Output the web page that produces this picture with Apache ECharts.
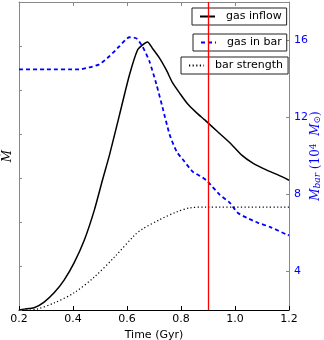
<!DOCTYPE html>
<html><head><meta charset="utf-8">
<script src="https://cdn.jsdelivr.net/npm/echarts@6/dist/echarts.min.js"></script>
<style>html,body{margin:0;padding:0;background:#fff}#c{width:324px;height:340px}</style>
</head><body><div id="c"></div>
<script>
// x-axis tick labels
const xTicks = [0.2, 0.4, 0.6, 0.8, 1.0, 1.2];
const rightTicks = [4, 8, 12, 16];
// gas inflow (left axis, arbitrary units)
const inflowTime  = [0.2,0.219,0.256,0.293,0.33,0.367,0.404,0.442,0.479,0.509,0.535,0.572,0.609,0.639,0.657,0.676,0.694,0.72,0.746,0.769,0.795,0.825,0.858,0.888,0.936,0.981,1.025,1.066,1.118,1.159,1.2];
const inflowValue = [0,0.02,0.05,0.18,0.39,0.68,1.07,1.59,2.27,2.95,3.52,4.43,5.34,5.91,6.02,6.09,5.95,5.73,5.45,5.16,4.93,4.68,4.48,4.32,4.05,3.80,3.52,3.34,3.18,3.07,2.95];
// gas in bar (right axis, 10^4 Msun)
const barGasTime  = [0.2,0.3,0.423,0.46,0.497,0.535,0.572,0.609,0.635,0.657,0.683,0.709,0.732,0.758,0.784,0.813,0.843,0.88,0.899,0.943,0.981,1.01,1.044,1.085,1.129,1.193,1.2];
const barGasValue = [14.5,14.5,14.5,14.6,14.76,15.18,15.7,16.17,16.11,15.7,14.92,13.72,12.5,11.11,10.23,9.71,9.19,8.88,8.67,7.99,7.57,7.05,6.79,6.53,6.32,5.91,5.88];
// bar strength (left axis)
const strengthTime  = [0.2,0.24,0.267,0.33,0.404,0.479,0.553,0.628,0.657,0.72,0.784,0.832,0.895,1.2];
const strengthValue = [0,0,0.02,0.16,0.39,0.75,1.2,1.7,1.84,2.05,2.23,2.32,2.34,2.34];
const markTime = 0.9;

const zip = (a, b) => a.map((t, i) => [t, b[i]]);
const chart = echarts.init(document.getElementById('c'), null, {renderer: 'canvas'});
const font = 'DejaVu Sans';
const legendBase = {
  orient: 'horizontal', backgroundColor: '#fff', borderColor: '#222', borderWidth: 1,
  borderRadius: 0, padding: [3, 5, 3, 7], itemWidth: 15, itemHeight: 13,
  itemStyle: {opacity: 0},
  textStyle: {fontFamily: font, fontSize: 11, color: '#000', padding: [0, 0, 0, 6]},
  selectedMode: false
};
chart.setOption({
  animation: false,
  grid: {left: 19, right: 35, top: 2, bottom: 30, containLabel: false, outerBoundsMode: 'none'},
  legend: [
    Object.assign({}, legendBase, {data: ['gas inflow'], left: 192, top: 8}),
    Object.assign({}, legendBase, {data: ['gas in bar'], left: 193, top: 34}),
    Object.assign({}, legendBase, {data: ['bar strength'], left: 181, top: 57})
  ],
  xAxis: [{
    type: 'value', min: 0.2, max: 1.2, interval: 0.2, position: 'bottom',
    name: 'Time (Gyr)', nameLocation: 'middle', nameGap: 20, nameMoveOverlap: false,
    nameTextStyle: {fontFamily: font, fontSize: 11, color: '#000'},
    axisLine: {show: true, lineStyle: {color: '#000', width: 1}},
    axisTick: {show: true, inside: true, length: 4, lineStyle: {color: '#000'}},
    axisLabel: {fontFamily: font, fontSize: 11, color: '#000', margin: 4,
      formatter: v => { const r = Math.round(v * 10) / 10; return xTicks.includes(r) ? r.toFixed(1) : ''; }},
    splitLine: {show: false}
  }, {
    type: 'value', min: 0.2, max: 1.2, interval: 0.2, position: 'top',
    axisLine: {show: true, lineStyle: {color: '#888', width: 1}},
    axisTick: {show: true, inside: true, length: 4, lineStyle: {color: '#888'}},
    axisLabel: {show: false}, splitLine: {show: false}
  }],
  yAxis: [{
    type: 'value', min: 0, max: 7, interval: 1, position: 'left',
    name: 'Ṁ', nameLocation: 'middle', nameGap: 5, nameRotate: 90, nameMoveOverlap: false,
    nameTextStyle: {fontFamily: 'DejaVu Serif', fontStyle: 'italic', fontSize: 12, color: '#000'},
    axisLine: {show: true, lineStyle: {color: '#888', width: 1}},
    axisTick: {show: true, inside: true, length: 3, lineStyle: {color: '#888'}},
    axisLabel: {show: false}, splitLine: {show: false}
  }, {
    type: 'value', min: 2, max: 18, position: 'right',
    name: '{i|M}{s|bar}{n| (10}{sup|4}{n|  }{i|M}{s|⊙}{n|)}',
    nameLocation: 'middle', nameGap: 20, nameRotate: 90, nameMoveOverlap: false,
    nameTextStyle: {color: '#0000ff', fontFamily: 'DejaVu Serif', fontSize: 12,
      rich: {
        i: {fontFamily: 'DejaVu Serif', fontStyle: 'italic', fontSize: 12, color: '#0000ff'},
        s: {fontFamily: 'DejaVu Serif', fontStyle: 'italic', fontSize: 9, color: '#0000ff', verticalAlign: 'bottom', padding: [4, 0, 0, 0]},
        sup: {fontFamily: 'DejaVu Serif', fontSize: 9, color: '#0000ff', verticalAlign: 'top', padding: [0, 0, 4, 0]},
        n: {fontFamily: 'DejaVu Serif', fontSize: 12, color: '#0000ff'}
      }},
    axisLine: {show: true, lineStyle: {color: '#888', width: 1}},
    axisTick: {show: true, inside: true, length: 3, customValues: rightTicks, lineStyle: {color: '#888'}},
    axisLabel: {fontFamily: font, fontSize: 11, color: '#0000ff', margin: 5, customValues: rightTicks},
    splitLine: {show: false}
  }],
  series: [{
    name: 'gas inflow', type: 'line', xAxisIndex: 0, yAxisIndex: 0, symbol: 'none', smooth: 0.2,
    data: zip(inflowTime, inflowValue),
    lineStyle: {color: '#000', width: 1.5}, itemStyle: {color: '#000'},
    markLine: {silent: true, symbol: ['none', 'none'], label: {show: false},
      lineStyle: {color: '#ff0000', width: 1.3, type: 'solid'}, data: [{xAxis: markTime}]}
  }, {
    name: 'gas in bar', type: 'line', xAxisIndex: 0, yAxisIndex: 1, symbol: 'none', smooth: 0.2,
    data: zip(barGasTime, barGasValue),
    lineStyle: {color: '#0000ff', width: 1.8, type: [4, 3]}, itemStyle: {color: '#0000ff'}
  }, {
    name: 'bar strength', type: 'line', xAxisIndex: 0, yAxisIndex: 0, symbol: 'none', smooth: 0.3,
    data: zip(strengthTime, strengthValue),
    lineStyle: {color: '#000', width: 1.2, type: [1.2, 2.4]}, itemStyle: {color: '#000'}
  }]
});
</script></body></html>
